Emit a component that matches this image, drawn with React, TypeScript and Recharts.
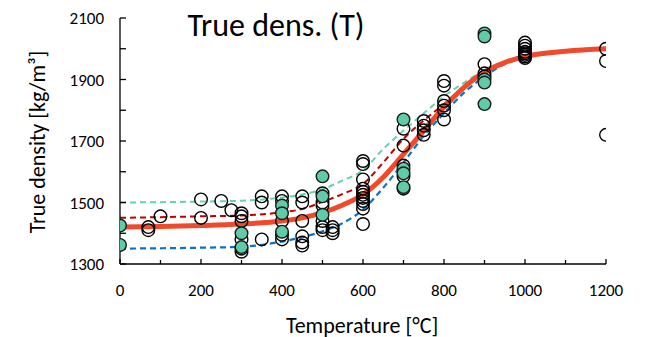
import { ComposedChart, Line, Scatter, XAxis, YAxis } from "recharts";

const FONT = "Carlito, Calibri, Lato, sans-serif";

// fitted curves (temperature -> density)
const fitT = [0, 100, 200, 300, 400, 450, 500, 550, 600, 650, 700, 750, 800, 850, 900, 950, 1000, 1100, 1200];
const fitMain = [1420, 1422, 1425, 1430, 1440, 1450, 1467, 1492, 1526, 1582, 1657, 1734, 1810, 1875, 1925, 1955, 1975, 1992, 2000];

const bandT = [0, 200, 300, 400, 450, 500, 550, 600, 650, 700, 750, 800, 850, 900, 950, 1000];
const bandUpper = [1500, 1503, 1506, 1516, 1526, 1543, 1572, 1605, 1674, 1734, 1790, 1845, 1890, 1930, 1958, 1975];
const bandMid = [1450, 1455, 1458, 1468, 1479, 1502, 1528, 1560, 1630, 1707, 1767, 1820, 1878, 1925, 1955, 1975];
const bandLower = [1350, 1353, 1356, 1373, 1387, 1406, 1433, 1477, 1548, 1630, 1717, 1790, 1858, 1910, 1950, 1972];

// measured points
const openT = [
  70, 70, 100, 200, 200, 250, 275,
  300, 300, 300, 300, 300, 300,
  350, 350, 350,
  400, 400, 400, 400, 400,
  450, 450, 450, 450, 450, 450,
  500, 500, 500, 500, 500, 500,
  525, 525, 525,
  600, 600, 600, 600, 600, 600, 600, 600, 600, 600, 600,
  700, 700, 700, 700, 700,
  750, 750, 750, 750,
  800, 800, 800, 800, 800, 800,
  900, 900, 900,
  1000, 1000, 1000, 1000, 1000, 1000, 1000, 1000,
  1200, 1200, 1200,
];
const openV = [
  1420, 1410, 1455, 1510, 1450, 1505, 1475,
  1465, 1455, 1440, 1380, 1350, 1340,
  1520, 1500, 1380,
  1520, 1505, 1440, 1395, 1380,
  1520, 1500, 1440, 1390, 1370, 1360,
  1530, 1500, 1490, 1440, 1420, 1410,
  1420, 1410, 1400,
  1635, 1625, 1575, 1545, 1535, 1525, 1515, 1505, 1495, 1480, 1430,
  1740, 1685, 1620, 1585, 1545,
  1765, 1750, 1735, 1720,
  1895, 1880, 1830, 1815, 1800, 1770,
  1950, 1920, 1910,
  2020, 2010, 2000, 1990, 1985, 1980, 1975, 1970,
  2000, 1960, 1720,
];

const greenT = [0, 0, 300, 300, 400, 400, 400, 500, 500, 500, 700, 700, 700, 700, 900, 900, 900, 900, 900];
const greenV = [1425, 1362, 1400, 1355, 1490, 1465, 1405, 1585, 1520, 1460, 1770, 1610, 1595, 1550, 2050, 2040, 1900, 1890, 1820];

const xTicks = [0, 100, 200, 300, 400, 500, 600, 700, 800, 900, 1000, 1100, 1200];
const yTicks = [1300, 1400, 1500, 1600, 1700, 1800, 1900, 2000, 2100];

const zip = (ts: number[], vs: number[]) => ts.map((t, i) => ({ t, v: vs[i] }));

const mainData = zip(fitT, fitMain);
const upperData = zip(bandT, bandUpper);
const midData = zip(bandT, bandMid);
const lowerData = zip(bandT, bandLower);
const openData = zip(openT, openV);
const greenData = zip(greenT, greenV);

const XTick = (props: any) => {
  const { x, y, payload } = props;
  const major = payload.value % 200 === 0;
  return (
    <g>
      <line x1={x} x2={x} y1={y} y2={y - (major ? 5 : 4)} stroke="#000" strokeWidth={1.3} />
      {major && (
        <text x={x} y={y + 32} textAnchor="middle" fontSize={17} fontFamily={FONT} fill="#000">
          {payload.value}
        </text>
      )}
    </g>
  );
};

const YTick = (props: any) => {
  const { x, y, payload } = props;
  const major = payload.value % 200 === 100;
  return (
    <g>
      <line x1={x} x2={x + 6} y1={y} y2={y} stroke="#000" strokeWidth={1.3} />
      {major && (
        <text x={x - 16} y={y + 6} textAnchor="end" fontSize={17} fontFamily={FONT} fill="#000">
          {payload.value}
        </text>
      )}
    </g>
  );
};

const OpenDot = (p: any) => (
  <circle cx={p.cx} cy={p.cy} r={6.3} fill="none" stroke="#000" strokeWidth={1.4} />
);
const GreenDot = (p: any) => (
  <circle cx={p.cx} cy={p.cy} r={6.3} fill="#5ECBA9" stroke="#1a1a1a" strokeWidth={1.4} />
);

export default function App() {
  return (
    <div style={{ position: "absolute", left: 0, top: 0, width: 646, height: 337, background: "#fff", fontFamily: FONT }}>
      <ComposedChart width={646} height={337} margin={{ top: 18, right: 40, bottom: 43, left: 60 }}>
        <XAxis
          type="number"
          dataKey="t"
          domain={[0, 1200]}
          ticks={xTicks}
          tickSize={0}
          tickMargin={0}
          height={30}
          stroke="#000"
          strokeWidth={1.3}
          tick={<XTick />}
          interval={0}
          allowDataOverflow
        />
        <YAxis
          type="number"
          dataKey="v"
          domain={[1300, 2100]}
          ticks={yTicks}
          tickSize={0}
          tickMargin={0}
          width={60}
          stroke="#000"
          strokeWidth={1.3}
          tick={<YTick />}
          interval={0}
          allowDataOverflow
        />
        <Line data={upperData} dataKey="v" type="monotone" stroke="#66D1B0" strokeWidth={2} strokeDasharray="6 4" dot={false} isAnimationActive={false} />
        <Line data={midData} dataKey="v" type="monotone" stroke="#C00000" strokeWidth={2} strokeDasharray="6 4" dot={false} isAnimationActive={false} />
        <Line data={lowerData} dataKey="v" type="monotone" stroke="#0A73C8" strokeWidth={2.2} strokeDasharray="6 4" dot={false} isAnimationActive={false} />
        <Line data={mainData} dataKey="v" type="monotone" stroke="#F04A2A" strokeWidth={5} strokeLinecap="round" dot={false} isAnimationActive={false} />
        <Scatter data={openData} dataKey="v" shape={OpenDot} isAnimationActive={false} />
        <Scatter data={greenData} dataKey="v" shape={GreenDot} isAnimationActive={false} />
      </ComposedChart>
      <div style={{ position: "absolute", left: 276, top: 25, transform: "translate(-50%, -50%)", fontSize: 32, whiteSpace: "nowrap" }}>
        True dens. (T)
      </div>
      <div style={{ position: "absolute", left: 37, top: 142, transform: "translate(-50%, -50%) rotate(-90deg)", fontSize: 22, whiteSpace: "nowrap" }}>
        True density [kg/m³]
      </div>
      <div style={{ position: "absolute", left: 362, top: 325, transform: "translate(-50%, -50%)", fontSize: 22, whiteSpace: "nowrap" }}>
        Temperature [°C]
      </div>
    </div>
  );
}
